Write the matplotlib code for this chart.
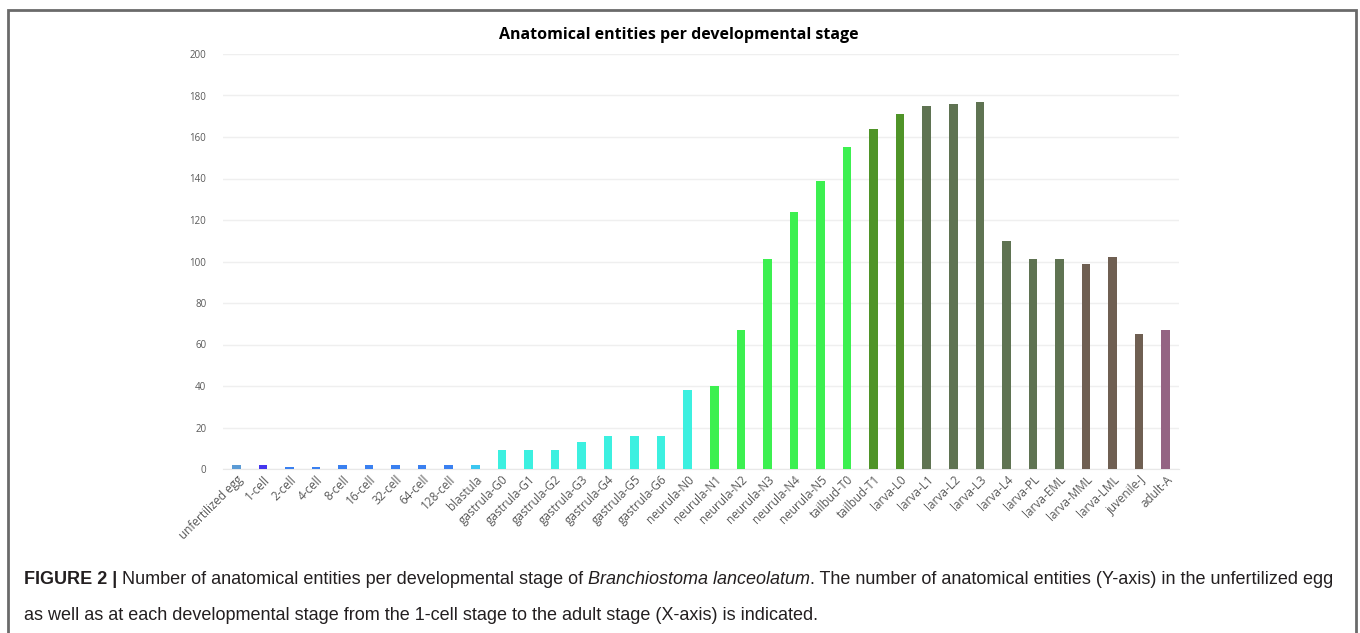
import matplotlib
matplotlib.use("Agg")
from matplotlib import pyplot as plt
from matplotlib.patches import Rectangle

# developmental stages and number of anatomical entities
stages = ['unfertilized egg', '1-cell', '2-cell', '4-cell', '8-cell', '16-cell', '32-cell',
          '64-cell', '128-cell', 'blastula', 'gastrula-G0', 'gastrula-G1', 'gastrula-G2',
          'gastrula-G3', 'gastrula-G4', 'gastrula-G5', 'gastrula-G6', 'neurula-N0',
          'neurula-N1', 'neurula-N2', 'neurula-N3', 'neurula-N4', 'neurula-N5',
          'tailbud-T0', 'tailbud-T1', 'larva-L0', 'larva-L1', 'larva-L2', 'larva-L3',
          'larva-L4', 'larva-PL', 'larva-EML', 'larva-MML', 'larva-LML', 'juvenile-J',
          'adult-A']
entities = [2, 2, 1, 1, 2, 2, 2, 2, 2, 2, 9, 9, 9, 13, 16, 16, 16, 38,
            40, 67, 101, 124, 139, 155, 164, 171, 175, 176, 177,
            110, 101, 101, 99, 102, 65, 67]
bar_colors = (['#5b9bd5', '#4436ee'] + ['#3a80f0'] * 7 + ['#3cc6f0'] + ['#3cf0e0'] * 8
              + ['#3cf050'] * 6 + ['#4f9428'] * 2 + ['#5f7352'] * 6 + ['#6f5f52'] * 3
              + ['#946483'])

tick_gray = '#595959'
chart_font = ['Open Sans', 'DejaVu Sans']
cap_font = ['Liberation Sans', 'DejaVu Sans']

fig = plt.figure(figsize=(13.6, 6.33), dpi=100)
ax = fig.add_axes([223 / 1360, 1 - 469 / 633, (1179 - 223) / 1360, (469 - 54) / 633])

ax.bar(range(len(stages)), entities, width=0.32, color=bar_colors, zorder=3)
ax.set_xlim(-0.5, len(stages) - 0.5)
ax.set_ylim(0, 200)
ax.set_yticks(range(0, 201, 20))
ax.yaxis.grid(True, color='#efefef', lw=1, zorder=0)
for s in ['top', 'right', 'left']:
    ax.spines[s].set_visible(False)
ax.spines['bottom'].set_color('#e8e8e8')
ax.tick_params(axis='both', length=0, colors=tick_gray)
ax.tick_params(axis='y', labelsize=7, pad=12)
ax.tick_params(axis='x', pad=3)
ax.set_xticks(range(len(stages)))
ax.set_xticklabels(stages, rotation=45, ha='right', rotation_mode='anchor',
                   fontsize=8.5, family=chart_font)
for lab in ax.get_yticklabels():
    lab.set_family(chart_font)

fig.text(679 / 1360, 1 - 35 / 633, 'Anatomical entities per developmental stage',
         ha='center', va='center', fontsize=11.5, fontweight='bold', family=chart_font,
         color='black')

# frame around the figure panel
fig.patches.append(Rectangle((8 / 1360, -0.01), (1356 - 8) / 1360, 1 - 10 / 633 + 0.01,
                             transform=fig.transFigure, fill=False, ec='#6a6a6a', lw=2))

# caption with mixed styles
renderer = fig.canvas.get_renderer()
parts = [('FIGURE 2 | ', 'bold', 'normal'),
         ('Number of anatomical entities per developmental stage of ', 'normal', 'normal'),
         ('Branchiostoma lanceolatum', 'normal', 'italic'),
         ('. The number of anatomical entities (Y-axis) in the unfertilized egg', 'normal', 'normal')]
cap_size = 13
x0 = 24
y1 = 633 - 580
x = x0
for txt, wt, st in parts:
    t = fig.text(x / 1360, y1 / 633, txt, fontsize=cap_size, fontweight=wt, fontstyle=st,
                 family=cap_font, color='#231f20', va='center', ha='left')
    x += t.get_window_extent(renderer).width
fig.text(x0 / 1360, (633 - 616) / 633,
         'as well as at each developmental stage from the 1-cell stage to the adult stage (X-axis) is indicated.',
         fontsize=cap_size, family=cap_font, color='#231f20', va='center', ha='left')

fig.savefig('out.png', dpi=100)
